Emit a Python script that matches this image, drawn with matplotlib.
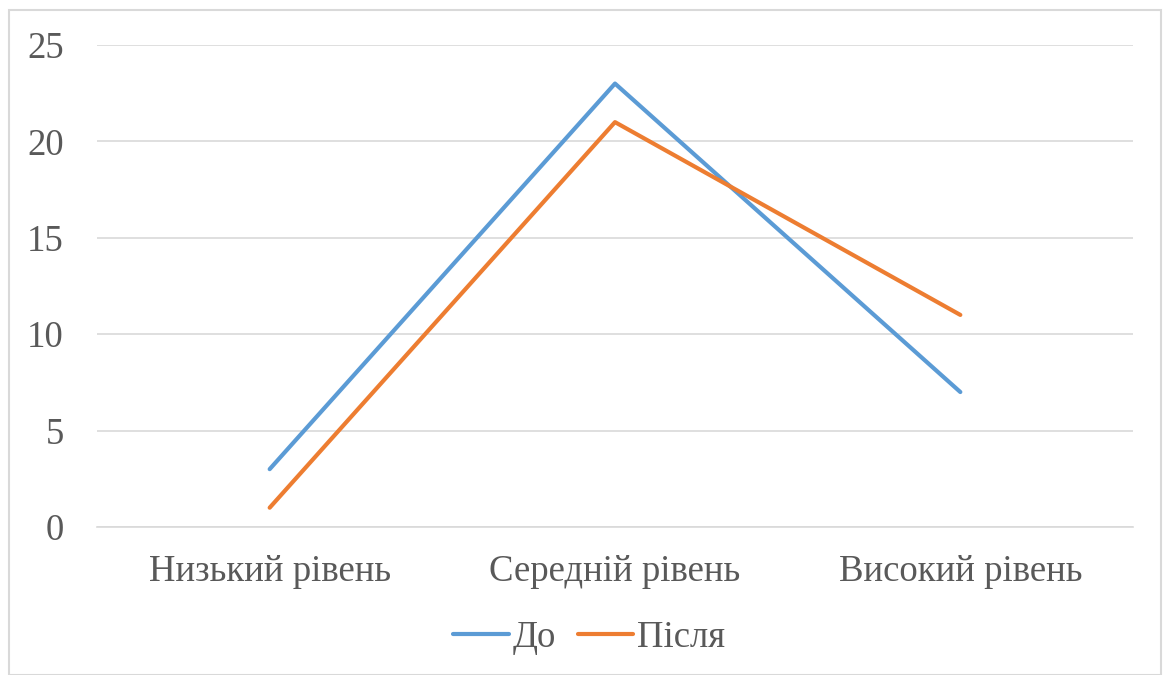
import matplotlib.pyplot as plt
from matplotlib.patches import Rectangle

categories = ["Низький рівень", "Середній рівень", "Високий рівень"]
before = [3, 23, 7]
after = [1, 21, 11]
series_names = ["До", "Після"]

plt.rcParams["font.family"] = ["Liberation Serif", "DejaVu Serif"]

fig = plt.figure(figsize=(11.65, 6.75), dpi=100)
fig.patches.append(Rectangle((9 / 1165, 0), 1152 / 1165, 665 / 675,
                             transform=fig.transFigure, fill=False,
                             edgecolor="#D9D9D9", linewidth=1.5))

ax = fig.add_axes([97 / 1165, 1 - 527 / 675, 1036 / 1165, 482 / 675])
x = range(len(categories))
ax.plot(x, before, color="#5B9BD5", linewidth=3, label=series_names[0],
        solid_capstyle="round")
ax.plot(x, after, color="#ED7D31", linewidth=3, label=series_names[1],
        solid_capstyle="round")

ax.set_xlim(-0.5, 2.5)
ax.set_ylim(0, 25)
ax.set_yticks([0, 5, 10, 15, 20, 25])
ax.set_xticks(list(x))
ax.set_xticklabels(categories)
ax.grid(axis="y", color="#D9D9D9", linewidth=1.2)
ax.set_axisbelow(True)
for s in ax.spines.values():
    s.set_visible(False)
ax.spines["bottom"].set_visible(True)
ax.spines["bottom"].set_color("#D9D9D9")
ax.spines["bottom"].set_linewidth(1.2)
ax.tick_params(length=0, labelsize=26.5, colors="#595959")
ax.tick_params(axis="y", pad=24)
ax.tick_params(axis="x", pad=20)

fig.legend(loc="center", bbox_to_anchor=(589 / 1165, 1 - 638 / 675), ncol=2,
           frameon=False, fontsize=26.5, handlelength=1.5, handletextpad=0.1,
           columnspacing=0.6, labelcolor="#595959")

fig.savefig("out.png", dpi=100)
